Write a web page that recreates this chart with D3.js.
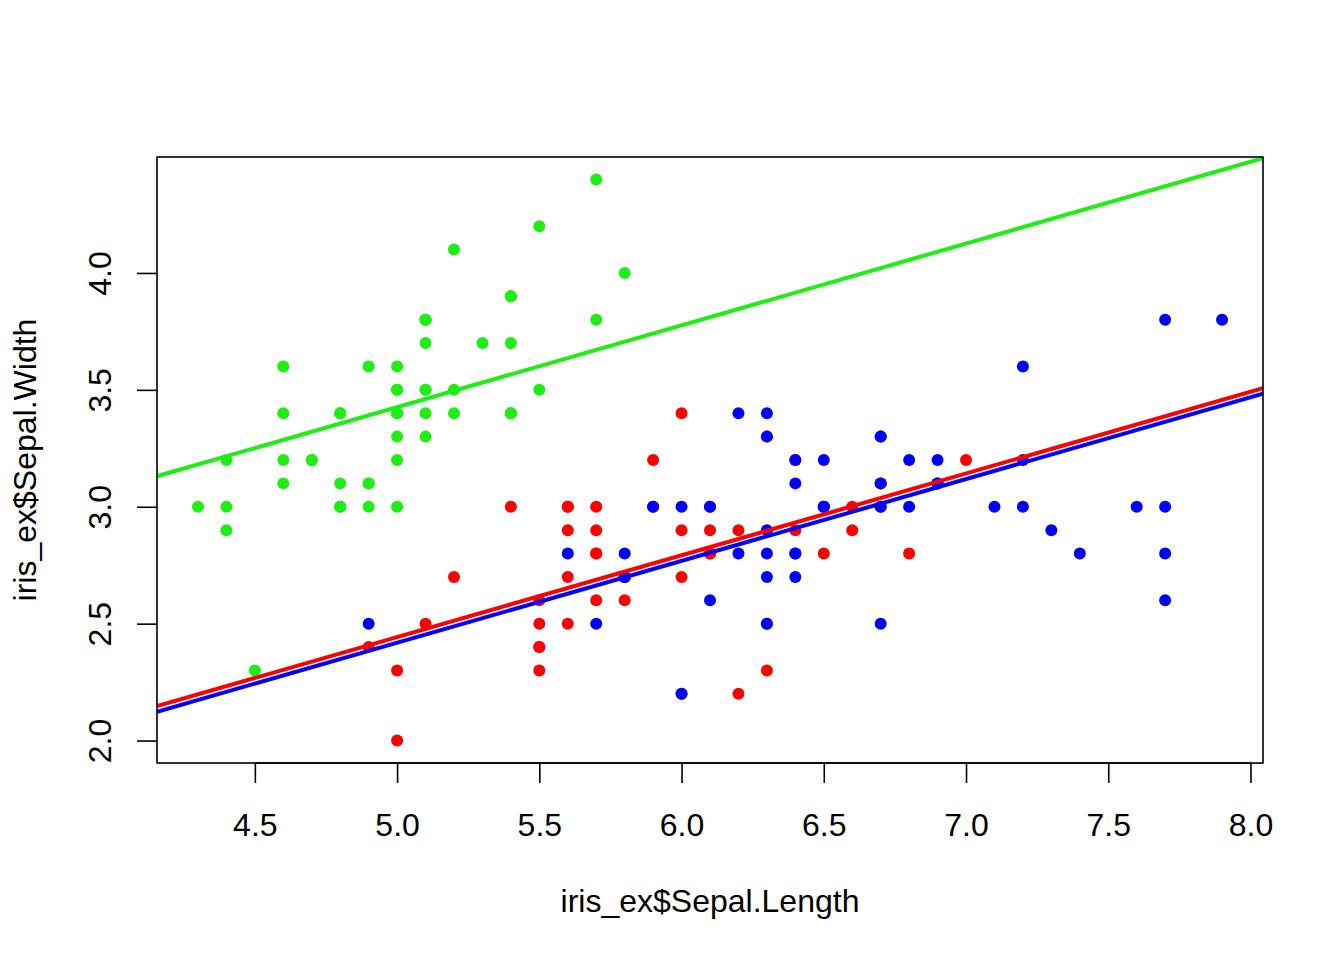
<!DOCTYPE html>
<html><head><meta charset="utf-8">
<script src="https://cdn.jsdelivr.net/npm/d3@7"></script>
<style>body{margin:0;background:#fff}text{font-family:"Liberation Sans",Arial,sans-serif;fill:#000}</style>
</head><body><svg id="c" width="1344" height="960"></svg>
<script>
// iris_ex data: Sepal.Length, Sepal.Width by species
const setosaLength = [5.1,4.9,4.7,4.6,5.0,5.4,4.6,5.0,4.4,4.9,5.4,4.8,4.8,4.3,5.8,5.7,5.4,5.1,5.7,5.1,5.4,5.1,4.6,5.1,4.8,5.0,5.0,5.2,5.2,4.7,4.8,5.4,5.2,5.5,4.9,5.0,5.5,4.9,4.4,5.1,5.0,4.5,4.4,5.0,5.1,4.8,5.1,4.6,5.3,5.0];
const setosaWidth  = [3.5,3.0,3.2,3.1,3.6,3.9,3.4,3.4,2.9,3.1,3.7,3.4,3.0,3.0,4.0,4.4,3.9,3.5,3.8,3.8,3.4,3.7,3.6,3.3,3.4,3.0,3.4,3.5,3.4,3.2,3.1,3.4,4.1,4.2,3.1,3.2,3.5,3.6,3.0,3.4,3.5,2.3,3.2,3.5,3.8,3.0,3.8,3.2,3.7,3.3];
const versicolorLength = [7.0,6.4,6.9,5.5,6.5,5.7,6.3,4.9,6.6,5.2,5.0,5.9,6.0,6.1,5.6,6.7,5.6,5.8,6.2,5.6,5.9,6.1,6.3,6.1,6.4,6.6,6.8,6.7,6.0,5.7,5.5,5.5,5.8,6.0,5.4,6.0,6.7,6.3,5.6,5.5,5.5,6.1,5.8,5.0,5.6,5.7,5.7,6.2,5.1,5.7];
const versicolorWidth  = [3.2,3.2,3.1,2.3,2.8,2.8,3.3,2.4,2.9,2.7,2.0,3.0,2.2,2.9,2.9,3.1,3.0,2.7,2.2,2.5,3.2,2.8,2.5,2.8,2.9,3.0,2.8,3.0,2.9,2.6,2.4,2.4,2.7,2.7,3.0,3.4,3.1,2.3,3.0,2.5,2.6,3.0,2.6,2.3,2.7,3.0,2.9,2.9,2.5,2.8];
const virginicaLength = [6.3,5.8,7.1,6.3,6.5,7.6,4.9,7.3,6.7,7.2,6.5,6.4,6.8,5.7,5.8,6.4,6.5,7.7,7.7,6.0,6.9,5.6,7.7,6.3,6.7,7.2,6.2,6.1,6.4,7.2,7.4,7.9,6.4,6.3,6.1,7.7,6.3,6.4,6.0,6.9,6.7,6.9,5.8,6.8,6.7,6.7,6.3,6.5,6.2,5.9];
const virginicaWidth  = [3.3,2.7,3.0,2.9,3.0,3.0,2.5,2.9,2.5,3.6,3.2,2.7,3.0,2.5,2.8,3.2,3.0,3.8,2.6,2.2,3.2,2.8,2.8,2.7,3.3,3.2,2.8,3.0,2.8,3.0,2.8,3.8,2.8,2.8,2.6,3.0,3.4,3.1,3.0,3.1,3.1,3.1,2.7,3.2,3.3,3.0,2.5,3.0,3.4,3.0];
const speciesNames = ["setosa","versicolor","virginica"];
const speciesColors = ["#1eee14","#ff0000","#0000ff"];
// fitted lines: Sepal.Width ~ Sepal.Length + Species
const lineIntercepts = [1.6765, 0.6931, 0.6690];
const lineSlope = 0.3499;
const lineOrder = [0, 2, 1];
const xTicks = [4.5,5.0,5.5,6.0,6.5,7.0,7.5,8.0];
const yTicks = [2.0,2.5,3.0,3.5,4.0];
const xLabel = "iris_ex$Sepal.Length", yLabel = "iris_ex$Sepal.Width";

const svg = d3.select("#c");
const L = 157, R = 1263, T = 157, B = 763;
const FS = 32;
const allX = setosaLength.concat(versicolorLength, virginicaLength);
const allY = setosaWidth.concat(versicolorWidth, virginicaWidth);
const ex = d3.extent(allX), ey = d3.extent(allY);
const px = (ex[1]-ex[0])*0.04, py = (ey[1]-ey[0])*0.04;
const x = d3.scaleLinear().domain([ex[0]-px, ex[1]+px]).range([L, R]);
const y = d3.scaleLinear().domain([ey[0]-py, ey[1]+py]).range([B, T]);

const pts = [];
[[setosaLength,setosaWidth],[versicolorLength,versicolorWidth],[virginicaLength,virginicaWidth]].forEach((s,i)=>{
  s[0].forEach((v,j)=>pts.push({x:v,y:s[1][j],s:i}));
});
svg.append("g").selectAll("circle").data(pts).join("circle")
  .attr("cx",d=>x(d.x)).attr("cy",d=>y(d.y)).attr("r",6)
  .attr("fill",d=>speciesColors[d.s]);

svg.append("clipPath").attr("id","pc").append("rect")
  .attr("x",L).attr("y",T).attr("width",R-L).attr("height",B-T);
const xd = x.domain();
svg.append("g").attr("clip-path","url(#pc)").selectAll("line").data(lineOrder).join("line")
  .attr("x1",x(xd[0])).attr("x2",x(xd[1]))
  .attr("y1",i=>y(lineIntercepts[i]+lineSlope*xd[0]))
  .attr("y2",i=>y(lineIntercepts[i]+lineSlope*xd[1]))
  .attr("stroke",i=>speciesColors[i]).attr("stroke-width",4);

svg.append("rect").attr("x",L).attr("y",T).attr("width",R-L).attr("height",B-T)
  .attr("fill","none").attr("stroke","#000").attr("stroke-width",1.6);

const xa = svg.append("g").attr("transform",`translate(0,${B})`)
  .call(d3.axisBottom(x).tickValues(xTicks).tickFormat(d3.format(".1f")).tickSize(20));
const ya = svg.append("g").attr("transform",`translate(${L},0)`)
  .call(d3.axisLeft(y).tickValues(yTicks).tickFormat(d3.format(".1f")).tickSize(20));
[xa,ya].forEach(a=>{
  a.select(".domain").remove();
  a.selectAll("line").attr("stroke","#000").attr("stroke-width",1.6);
  a.selectAll("text").attr("font-size",FS).attr("font-family","Liberation Sans, Arial, sans-serif").attr("fill","#000");
});
xa.selectAll("text").attr("dy",null).attr("y",73);
ya.selectAll("text").attr("x",0).attr("y",0).attr("dy",null)
  .attr("text-anchor","middle").attr("transform","translate(-46,0) rotate(-90)");
svg.append("line").attr("x1",x(xTicks[0])).attr("x2",x(xTicks[xTicks.length-1])).attr("y1",B).attr("y2",B)
  .attr("stroke","#000").attr("stroke-width",1.6);

svg.append("text").attr("x",(L+R)/2).attr("y",912).attr("text-anchor","middle").attr("font-size",FS).text(xLabel);
svg.append("text").attr("transform",`translate(36,${(T+B)/2}) rotate(-90)`).attr("text-anchor","middle").attr("font-size",FS).text(yLabel);
</script></body></html>
